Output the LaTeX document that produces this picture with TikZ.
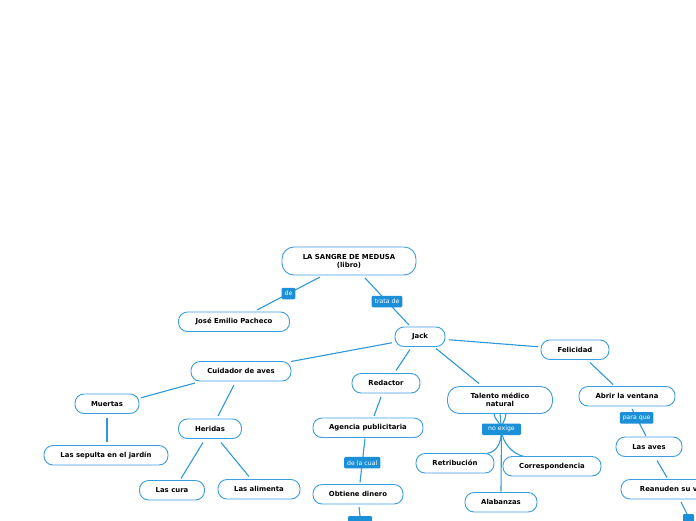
\documentclass[tikz,border=0pt]{standalone}
\usepackage{fontspec}
\setmainfont{DejaVu Sans}
\usetikzlibrary{positioning, backgrounds}
\definecolor{linkblue}{HTML}{2D98DA}
\definecolor{boxblue}{HTML}{3C9EE2}
\definecolor{tagblue}{HTML}{1C8FD9}

\begin{document}
\begin{tikzpicture}[
		x=1pt, y=-1pt,
		concept/.style={draw=boxblue, line width=0.9pt, fill=white, rounded corners=9pt,
			minimum height=19.5pt, inner sep=2pt, outer sep=0pt, align=center,
			font=\fontsize{6.9}{8}\selectfont\bfseries},
		tag/.style={fill=tagblue, rounded corners=1.2pt, text=white, minimum height=11.5pt,
			inner xsep=3pt, inner ysep=0pt, outer sep=0pt, font=\fontsize{6.2}{7}\selectfont},
		link/.style={draw=linkblue, line width=1.1pt}
		]
		
		\useasboundingbox (0,0) rectangle (696,520);
		\clip (0,0) rectangle (696,520);
		\begin{scope}[on background layer]
			\fill[white] (0,0) rectangle (696,520);
		\end{scope}
		
		% ==========================================
		% Central topic
		% ==========================================
		\node (libro) [concept, minimum width=134pt, minimum height=28pt, rounded corners=12pt] at (349,261) {LA SANGRE DE MEDUSA\\(libro)};
		\node (jose) [concept, minimum width=111pt, below=37pt of libro, xshift=-115pt] {José Emilio Pacheco};
		\node (jack) [concept, minimum width=50pt, below=52pt of libro, xshift=71pt] {Jack};
		
		% ==========================================
		% Branches of Jack
		% ==========================================
		\node (felicidad) [concept, minimum width=68pt, right=96pt of jack, yshift=-13pt] {Felicidad};
		\node (cuidador) [concept, minimum width=100pt, below=15pt of jack, xshift=-179pt] {Cuidador de aves};
		\node (redactor) [concept, minimum width=68pt, below=27pt of jack, xshift=-34pt] {Redactor};
		\node (talento) [concept, minimum width=105pt, minimum height=27pt, rounded corners=12pt, below=40pt of jack, xshift=80pt] {Talento médico\\natural};
		
		% Cuidador de aves
		\node (muertas) [concept, minimum width=64pt, below=13pt of cuidador, xshift=-134pt] {Muertas};
		\node (sepulta) [concept, minimum width=124pt, below=32pt of muertas, xshift=-1pt] {Las sepulta en el jardín};
		\node (heridas) [concept, minimum width=63pt, below=38pt of cuidador, xshift=-31pt] {Heridas};
		\node (cura) [concept, minimum width=65pt, below=42pt of heridas, xshift=-38pt] {Las cura};
		\node (alimenta) [concept, minimum width=82pt, below=41pt of heridas, xshift=49pt] {Las alimenta};
		
		% Redactor
		\node (agencia) [concept, minimum width=110pt, below=25pt of redactor, xshift=-18pt] {Agencia publicitaria};
		\node (obtiene) [concept, minimum width=90pt, below=47pt of agencia, xshift=-10pt] {Obtiene dinero};
		\node (obtag) [tag, minimum width=24pt, below=12pt of obtiene, xshift=2pt] {};
		
		% Talento medico natural
		\node (noexige) [tag, minimum width=39pt, below=10pt of talento, xshift=1.5pt] {no exige};
		\node (retribucion) [concept, minimum width=78pt, below=40pt of talento, xshift=-45pt] {Retribución};
		\node (correspondencia) [concept, minimum width=98pt, below=43pt of talento, xshift=52pt] {Correspondencia};
		\node (alabanzas) [concept, minimum width=72pt, below=79pt of talento, xshift=1pt] {Alabanzas};
		
		% Felicidad
		\node (abrir) [concept, minimum width=96pt, below=27pt of felicidad, xshift=52pt] {Abrir la ventana};
		\node (aves) [concept, minimum width=66pt, below=31pt of abrir, xshift=22pt] {Las aves};
		\node (reanuden) [concept, minimum width=112pt, below=23pt of aves, xshift=28pt] {Reanuden su vuelo};
		\node (reantag) [tag, minimum width=11pt, inner xsep=0pt, below=15pt of reanuden, xshift=11.5pt] {};
		
		% ==========================================
		% Connectors
		% ==========================================
		\draw[link] ([shift={(-29,2)}]libro.south) -- node[tag] (tde) {de} ([shift={(23,-2)}]jose.north);
		\draw[link] ([shift={(16,3)}]libro.south) -- node[tag] (ttrata) {trata de} ([shift={(-11,-2)}]jack.north);
		
		\draw[link] ([shift={(4,3)}]jack.east) -- ([shift={(-3,-3)}]felicidad.west);
		\draw[link] ([shift={(-3,6)}]jack.west) -- (cuidador.north east);
		\draw[link] ([shift={(-10,3)}]jack.south) -- ([shift={(10,-3)}]redactor.north);
		\draw[link] ([shift={(16,2)}]jack.south) -- ([shift={(-21,-3)}]talento.north);
		
		\draw[link] ([shift={(-46,2)}]cuidador.south) -- ([shift={(2,-6)}]muertas.east);
		\draw[link] ([shift={(0,4)}]muertas.south) -- ([shift={(1,-4)}]sepulta.north);
		\draw[link] ([shift={(-7,4)}]cuidador.south) -- ([shift={(8,-3)}]heridas.north);
		\draw[link] ([shift={(-7,4)}]heridas.south) -- ([shift={(9,-2)}]cura.north);
		\draw[link] ([shift={(11,4)}]heridas.south) -- ([shift={(-10,-3)}]alimenta.north);
		
		\draw[link] ([shift={(-5,4)}]redactor.south) -- ([shift={(6,-2)}]agencia.north);
		\draw[link] ([shift={(-3,1)}]agencia.south) -- node[tag, pos=0.55] (tcual) {de la cual} ([shift={(2,-2)}]obtiene.north);
		\draw[link] ([shift={(1,3)}]obtiene.south) -- (obtag.north);
		
		\draw[link] ([shift={(15,3)}]felicidad.south) -- ([shift={(-14,-2)}]abrir.north);
		\draw[link] ([shift={(5,3)}]abrir.south) -- node[tag, pos=0.33] (tpara) {para que} ([shift={(-3,-1)}]aves.north);
		\draw[link] ([shift={(8,4)}]aves.south) -- ([shift={(-10,-2)}]reanuden.north);
		\draw[link] ([shift={(4,3)}]reanuden.south) -- ([shift={(-1.5,0)}]reantag.north);
		
		% the three links behind "no exige"
		\begin{scope}[on background layer]
			\draw[link] ([shift={(-6,0)}]talento.south) .. controls +(0,6) and +(0,-6) .. (noexige.center)
			.. controls +(0,14) and +(10,-2) .. ([shift={(-7,0)}]retribucion.north east);
			\draw[link] (talento.south) -- (noexige.center) -- ([shift={(0,-1)}]alabanzas.north);
			\draw[link] ([shift={(6,0)}]talento.south) .. controls +(0,6) and +(0,-6) .. (noexige.center)
			.. controls +(0,14) and +(-10,-2) .. ([shift={(21,0)}]correspondencia.north west);
		\end{scope}
		
	\end{tikzpicture}
\end{document}
